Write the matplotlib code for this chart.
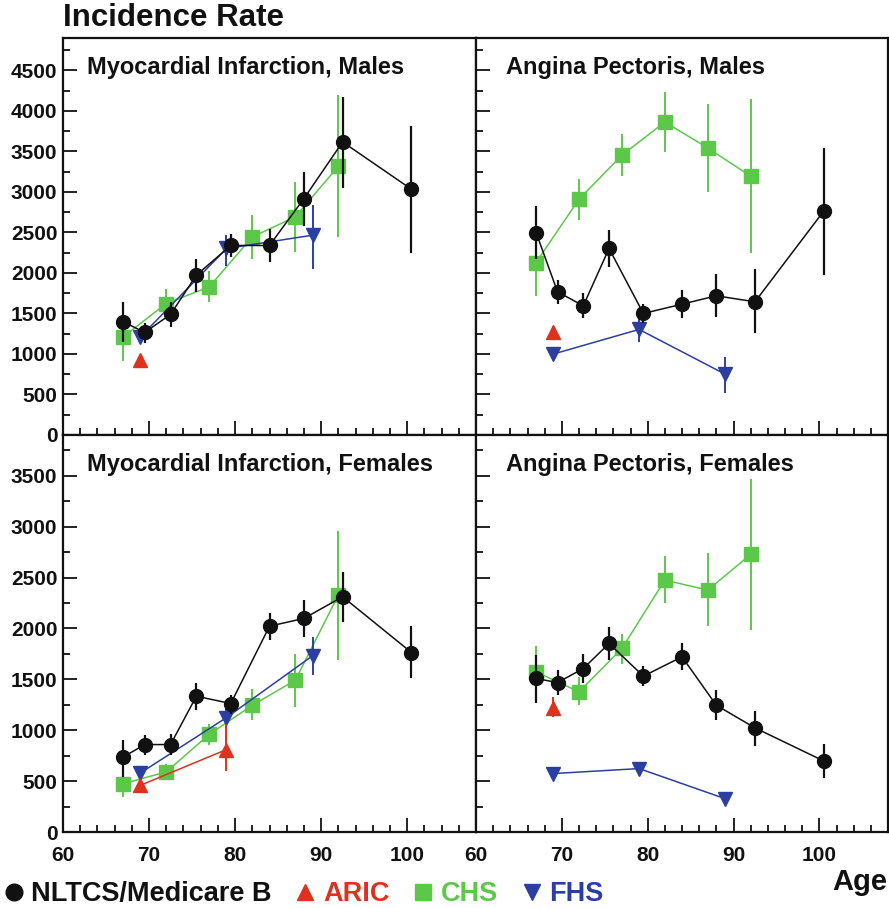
import numpy as np
import matplotlib
matplotlib.use("Agg")
import matplotlib.pyplot as plt
from matplotlib.lines import Line2D
from matplotlib.ticker import MultipleLocator

plt.rcParams['font.family'] = ['Liberation Sans', 'DejaVu Sans']
plt.rcParams['font.weight'] = 'bold'

# ages per study (same in every panel)
AGE_NLTCS = [67.0, 69.5, 72.5, 75.5, 79.5, 84.0, 88.0, 92.5, 100.5]
AGE_CHS   = [67.0, 72.0, 77.0, 82.0, 87.0, 92.0]
AGE_FHS   = [69.0, 79.0, 89.0]
AGE_ARIC_M = [69.0]
AGE_ARIC_F_MI = [69.0, 79.0]
AGE_ARIC_F_AP = [69.0]

# Myocardial infarction, males
mi_m_nltcs    = [1397, 1266, 1488, 1973, 2339, 2339, 2918, 3617, 3033]
mi_m_nltcs_lo = [1151, 1140, 1336, 1770, 2199, 2140, 2577, 3050, 2252]
mi_m_nltcs_hi = [1636, 1380, 1644, 2170, 2487, 2540, 3247, 4172, 3810]
mi_m_chs      = [1212, 1623, 1829, 2445, 2692, 3317]
mi_m_chs_lo   = [912, 1440, 1640, 2178, 2260, 2445]
mi_m_chs_hi   = [1500, 1796, 2020, 2713, 3124, 4192]
mi_m_fhs      = [1212, 2302, 2466]
mi_m_fhs_lo   = [1150, 2084, 2055]
mi_m_fhs_hi   = [1290, 2466, 2836]
mi_m_aric     = [925]
mi_m_aric_lo  = [890]
mi_m_aric_hi  = [960]

# Angina pectoris, males
ap_m_nltcs    = [2499, 1767, 1595, 2302, 1500, 1615, 1718, 1644, 2762]
ap_m_nltcs_lo = [2178, 1611, 1439, 2076, 1377, 1439, 1451, 1254, 1973]
ap_m_nltcs_hi = [2828, 1919, 1747, 2528, 1623, 1788, 1981, 2043, 3543]
ap_m_chs      = [2129, 2910, 3453, 3863, 3543, 3194]
ap_m_chs_lo   = [1714, 2659, 3194, 3494, 3000, 2248]
ap_m_chs_hi   = [2500, 3165, 3720, 4233, 4081, 4143]
ap_m_fhs      = [999, 1303, 752]
ap_m_fhs_lo   = [930, 1151, 522]
ap_m_fhs_hi   = [1060, 1438, 958]
ap_m_aric     = [1266]
ap_m_aric_lo  = [1200]
ap_m_aric_hi  = [1340]

# Myocardial infarction, females
mi_f_nltcs    = [737, 859, 859, 1334, 1262, 2022, 2098, 2311, 1763]
mi_f_nltcs_lo = [541, 754, 754, 1203, 1164, 1885, 1917, 2065, 1508]
mi_f_nltcs_hi = [901, 950, 960, 1468, 1344, 2153, 2284, 2557, 2022]
mi_f_chs      = [475, 590, 960, 1245, 1491, 2327]
mi_f_chs_lo   = [344, 508, 852, 1098, 1229, 1688]
mi_f_chs_hi   = [606, 672, 1065, 1409, 1747, 2956]
mi_f_fhs      = [580, 1124, 1731]
mi_f_fhs_lo   = [530, 1016, 1540]
mi_f_fhs_hi   = [630, 1213, 1917]
mi_f_aric     = [459, 810]
mi_f_aric_lo  = [420, 600]
mi_f_aric_hi  = [500, 1065]

# Angina pectoris, females
ap_f_nltcs    = [1508, 1468, 1606, 1852, 1531, 1721, 1245, 1023, 698]
ap_f_nltcs_lo = [1268, 1344, 1465, 1688, 1432, 1596, 1098, 846, 531]
ap_f_nltcs_hi = [1737, 1596, 1747, 2016, 1629, 1858, 1393, 1186, 869]
ap_f_chs      = [1573, 1377, 1803, 2475, 2376, 2727]
ap_f_chs_lo   = [1327, 1245, 1655, 2245, 2022, 1983]
ap_f_chs_hi   = [1829, 1518, 1950, 2711, 2737, 3464]
ap_f_fhs      = [574, 623, 328]
ap_f_fhs_lo   = [550, 600, 300]
ap_f_fhs_hi   = [600, 645, 355]
ap_f_aric     = [1219]
ap_f_aric_lo  = [1131]
ap_f_aric_hi  = [1327]

BLACK = '#111111'
GREEN = '#5cc84a'
RED   = '#e0301e'
BLUE  = '#2b3fa3'

STYLES = {
    'chs':   dict(color=GREEN, marker='s', ms=9.5, elw=1.4, zorder=2),
    'fhs':   dict(color=BLUE,  marker='v', ms=10,  elw=1.4, zorder=3),
    'aric':  dict(color=RED,   marker='^', ms=10,  elw=1.4, zorder=4),
    'nltcs': dict(color=BLACK, marker='o', ms=10,  elw=1.6, zorder=5),
}


def series(ax, key, x, y, lo, hi):
    st = STYLES[key]
    y = np.asarray(y, float)
    yerr = [y - np.asarray(lo, float), np.asarray(hi, float) - y]
    ax.errorbar(x, y, yerr=yerr, fmt='none', ecolor=st['color'],
                elinewidth=st['elw'], capsize=0, zorder=st['zorder'])
    ax.plot(x, y, color=st['color'], lw=1.1, marker=st['marker'],
            ms=st['ms'], mec=st['color'], mfc=st['color'], zorder=st['zorder'])


def style_axes(ax, ymax, show_x, show_y):
    ax.set_xlim(60, 108)
    ax.set_ylim(0, ymax)
    ax.xaxis.set_major_locator(MultipleLocator(10))
    ax.xaxis.set_minor_locator(MultipleLocator(2))
    ax.yaxis.set_major_locator(MultipleLocator(500))
    ax.yaxis.set_minor_locator(MultipleLocator(250))
    ax.set_xticks([60, 70, 80, 90, 100])
    ax.tick_params(which='both', direction='in', top=False, right=False,
                   width=1.3, colors=BLACK, labelsize=15)
    ax.tick_params(axis='y', pad=4)
    ax.tick_params(axis='x', pad=10)
    ax.tick_params(which='major', length=10)
    ax.tick_params(which='minor', length=5)
    if not show_x:
        ax.tick_params(labelbottom=False)
    if not show_y:
        ax.tick_params(labelleft=False)
    for lab in ax.get_xticklabels() + ax.get_yticklabels():
        lab.set_fontweight('bold')
    for sp in ax.spines.values():
        sp.set_linewidth(1.6)
        sp.set_color(BLACK)


fig = plt.figure(figsize=(8.89, 9.08), dpi=100)
W, H = 889, 908
left_x, mid_x, right_x = 63, 476, 888
top_y, mid_y, bot_y = 38, 435, 832

def add(x0, x1, y0, y1):
    return fig.add_axes([x0 / W, 1 - y1 / H, (x1 - x0) / W, (y1 - y0) / H])

ax_mim = add(left_x, mid_x, top_y, mid_y)
ax_apm = add(mid_x, right_x, top_y, mid_y)
ax_mif = add(left_x, mid_x, mid_y, bot_y)
ax_apf = add(mid_x, right_x, mid_y, bot_y)

# top left
series(ax_mim, 'chs', AGE_CHS, mi_m_chs, mi_m_chs_lo, mi_m_chs_hi)
series(ax_mim, 'fhs', AGE_FHS, mi_m_fhs, mi_m_fhs_lo, mi_m_fhs_hi)
series(ax_mim, 'aric', AGE_ARIC_M, mi_m_aric, mi_m_aric_lo, mi_m_aric_hi)
series(ax_mim, 'nltcs', AGE_NLTCS, mi_m_nltcs, mi_m_nltcs_lo, mi_m_nltcs_hi)
# top right
series(ax_apm, 'chs', AGE_CHS, ap_m_chs, ap_m_chs_lo, ap_m_chs_hi)
series(ax_apm, 'fhs', AGE_FHS, ap_m_fhs, ap_m_fhs_lo, ap_m_fhs_hi)
series(ax_apm, 'aric', AGE_ARIC_M, ap_m_aric, ap_m_aric_lo, ap_m_aric_hi)
series(ax_apm, 'nltcs', AGE_NLTCS, ap_m_nltcs, ap_m_nltcs_lo, ap_m_nltcs_hi)
# bottom left
series(ax_mif, 'chs', AGE_CHS, mi_f_chs, mi_f_chs_lo, mi_f_chs_hi)
series(ax_mif, 'fhs', AGE_FHS, mi_f_fhs, mi_f_fhs_lo, mi_f_fhs_hi)
series(ax_mif, 'aric', AGE_ARIC_F_MI, mi_f_aric, mi_f_aric_lo, mi_f_aric_hi)
series(ax_mif, 'nltcs', AGE_NLTCS, mi_f_nltcs, mi_f_nltcs_lo, mi_f_nltcs_hi)
# bottom right
series(ax_apf, 'chs', AGE_CHS, ap_f_chs, ap_f_chs_lo, ap_f_chs_hi)
series(ax_apf, 'fhs', AGE_FHS, ap_f_fhs, ap_f_fhs_lo, ap_f_fhs_hi)
series(ax_apf, 'aric', AGE_ARIC_F_AP, ap_f_aric, ap_f_aric_lo, ap_f_aric_hi)
series(ax_apf, 'nltcs', AGE_NLTCS, ap_f_nltcs, ap_f_nltcs_lo, ap_f_nltcs_hi)

style_axes(ax_mim, 4900, False, True)
style_axes(ax_apm, 4900, False, False)
style_axes(ax_mif, 3900, True, True)
style_axes(ax_apf, 3900, True, False)

titles = [(ax_mim, "Myocardial Infarction, Males", 0.058),
          (ax_apm, "Angina Pectoris, Males", 0.073),
          (ax_mif, "Myocardial Infarction, Females", 0.058),
          (ax_apf, "Angina Pectoris, Females", 0.073)]
for ax, t, xx in titles:
    ax.text(xx, 0.925, t, transform=ax.transAxes, fontsize=17,
            fontweight='bold', ha='left', va='center', color=BLACK)

fig.text(63 / W, 1 - 17.5 / H, "Incidence Rate", fontsize=22.5,
         fontweight='bold', ha='left', va='center', color=BLACK)
fig.text(887 / W, 1 - 882 / H, "Age", fontsize=21, fontweight='bold',
         ha='right', va='center', color=BLACK)

handles = [Line2D([], [], ls='none', marker='o', color=BLACK, ms=12),
           Line2D([], [], ls='none', marker='^', color=RED, ms=12),
           Line2D([], [], ls='none', marker='s', color=GREEN, ms=11),
           Line2D([], [], ls='none', marker='v', color=BLUE, ms=12)]
labels = ["NLTCS/Medicare B", "ARIC", "CHS", "FHS"]
leg = fig.legend(handles, labels, loc='center left',
                 bbox_to_anchor=(0.003, 1 - 894 / H), ncol=4, frameon=False,
                 handlelength=0.6, handletextpad=0.35, columnspacing=0.95,
                 borderaxespad=0, borderpad=0.1,
                 labelcolor=[BLACK, RED, GREEN, BLUE],
                 prop={'size': 19.5, 'weight': 'bold'})

fig.savefig("out.png", dpi=100)
